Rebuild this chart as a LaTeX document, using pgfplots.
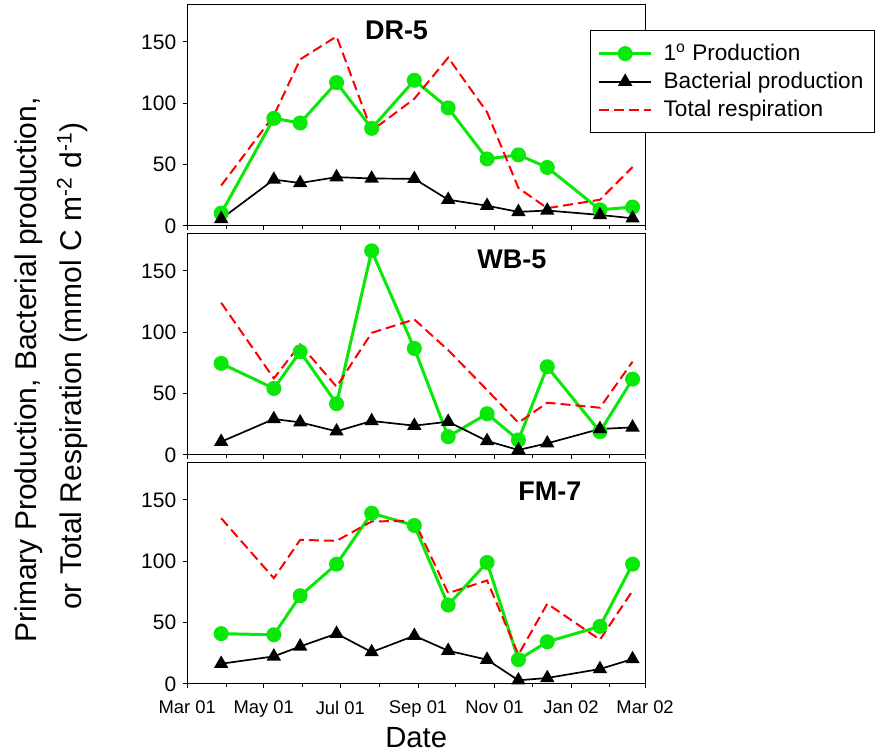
\documentclass[border=0pt]{standalone}
\usepackage{fontspec}
\setmainfont{Liberation Sans}
\usepackage{pgfplots}
\usepackage{pgfplotstable}
\pgfplotsset{compat=1.18}

\definecolor{ppgreen}{RGB}{10,232,10}
\definecolor{trred}{RGB}{255,0,0}

% day = days after 1 Mar 2001
\pgfplotstableread{
day pp    bp   tr
27  10.4  5.8  32.9
69  87.7  37.8 90.0
90  83.9  35.0 135.7
119 116.8 39.8 154.4
147 79.5  38.7 77.6
181 118.7 38.4 103.6
208 96.2  21.4 137.1
239 54.6  16.5 92.7
264 57.9  11.5 31.0
287 47.7  12.6 14.5
329 13.2  9.0  21.4
355 15.4  6.3  48.0
}\drfive

\pgfplotstableread{
day pp    bp   tr
27  74.6  10.8 124.0
69  54.2  29.3 62.4
90  84.1  26.6 90.0
119 41.8  19.3 55.6
147 166.3 27.7 99.5
181 86.8  23.9 110.4
208 14.9  27.1 85.4
239 33.6  11.4 52.9
264 12.2  4.1  26.3
287 71.9  9.5  42.6
329 19.0  21.2 38.5
355 61.8  22.5 76.0
}\wbfive

\pgfplotstableread{
day pp    bp   tr
27  41.0  16.5 135.0
69  40.1  22.5 86.2
90  71.9  30.6 117.4
119 97.6  41.0 116.6
147 139.1 26.0 132.4
181 129.1 39.3 132.9
208 64.3  27.1 74.0
239 99.0  19.8 84.3
264 19.8  3.0  23.9
287 34.4  4.9  65.4
329 46.9  12.2 36.1
355 97.6  20.3 75.9
}\fmseven

\pgfplotsset{
  panel/.style={
    scale only axis,
    width=228.9pt, height=110.5pt,
    xmin=0, xmax=365, ymin=0, ymax=180,
    xtick={0,61,122,184,245,306,365},
    minor xtick={31,92,153,214,275,337},
    ytick={0,50,100,150},
    xticklabels={},
    tick pos=left, tick align=outside,
    major tick length=2pt, minor tick length=1.3pt,
    axis line style={line width=0.5pt},
    every tick/.style={black, line width=0.5pt},
    clip=false,
    /pgf/number format/assume math mode=true,
    yticklabel style={font=\fontsize{10.5}{12}\selectfont},
    xticklabel style={font=\fontsize{9.2}{11}\selectfont, yshift=-3pt},
  },
  pp/.style={ppgreen, line width=1.5pt, mark=*, mark size=3pt, mark options={solid, fill=ppgreen}},
  bp/.style={black, line width=0.85pt, mark=triangle*, mark size=3.3pt, mark options={solid}},
  tr/.style={trred, line width=1pt, dash pattern=on 5pt off 2.5pt},
}
\tikzset{paneltitle/.style={font=\fontsize{13.5}{15}\selectfont\bfseries, anchor=base}}

\begin{document}
\begin{tikzpicture}
\useasboundingbox (-93.65pt,-34.5pt) rectangle (344.35pt,342pt);

% DR-5
\begin{axis}[panel, at={(0pt,229pt)},
  legend style={at={(axis description cs:0.88,0.885)}, anchor=north west,
    draw=black, line width=0.5pt, fill=white,
    font=\fontsize{11.3}{13.6}\selectfont,
    inner xsep=3.5pt, inner ysep=4.5pt, row sep=0.3pt, column sep=3.5pt},
  legend cell align=left,
  legend image code/.code={\draw[mark repeat=2, mark phase=2, #1] plot coordinates {(0pt,0pt) (13pt,0pt) (26pt,0pt)};},
]
\addplot[pp] table[x=day, y=pp]{\drfive};
\addplot[bp] table[x=day, y=bp]{\drfive};
\addplot[tr] table[x=day, y=tr]{\drfive};
\legend{1\textsuperscript{o} Production, Bacterial production, Total respiration}
\node[paneltitle] at (rel axis cs:0.457,0.842) {DR-5};
\end{axis}

% WB-5
\begin{axis}[panel, at={(0pt,114.5pt)}]
\addplot[pp] table[x=day, y=pp]{\wbfive};
\addplot[bp] table[x=day, y=bp]{\wbfive};
\addplot[tr] table[x=day, y=tr]{\wbfive};
\node[paneltitle] at (rel axis cs:0.709,0.842) {WB-5};
\end{axis}

% FM-7
\begin{axis}[panel, at={(0pt,0pt)},
  xticklabels={Mar 01, May 01, Jul 01, Sep 01, Nov 01, Jan 02, Mar 02},
  xlabel={Date},
  xlabel style={font=\fontsize{14.6}{16}\selectfont, at={(axis description cs:0.5,0)}, anchor=base, yshift=-31.5pt},
]
\addplot[pp] table[x=day, y=pp]{\fmseven};
\addplot[bp] table[x=day, y=bp]{\fmseven};
\addplot[tr] table[x=day, y=tr]{\fmseven};
\node[paneltitle] at (rel axis cs:0.792,0.83) {FM-7};
\end{axis}

\node[rotate=90, anchor=base, font=\fontsize{15}{18}\selectfont] at (-75.15pt,157pt) {Primary Production, Bacterial production,};
\node[rotate=90, anchor=base, font=\fontsize{15}{18}\selectfont] at (-52.65pt,159pt) {or Total Respiration (mmol C m\textsuperscript{-2} d\textsuperscript{-1})};
\end{tikzpicture}
\end{document}
